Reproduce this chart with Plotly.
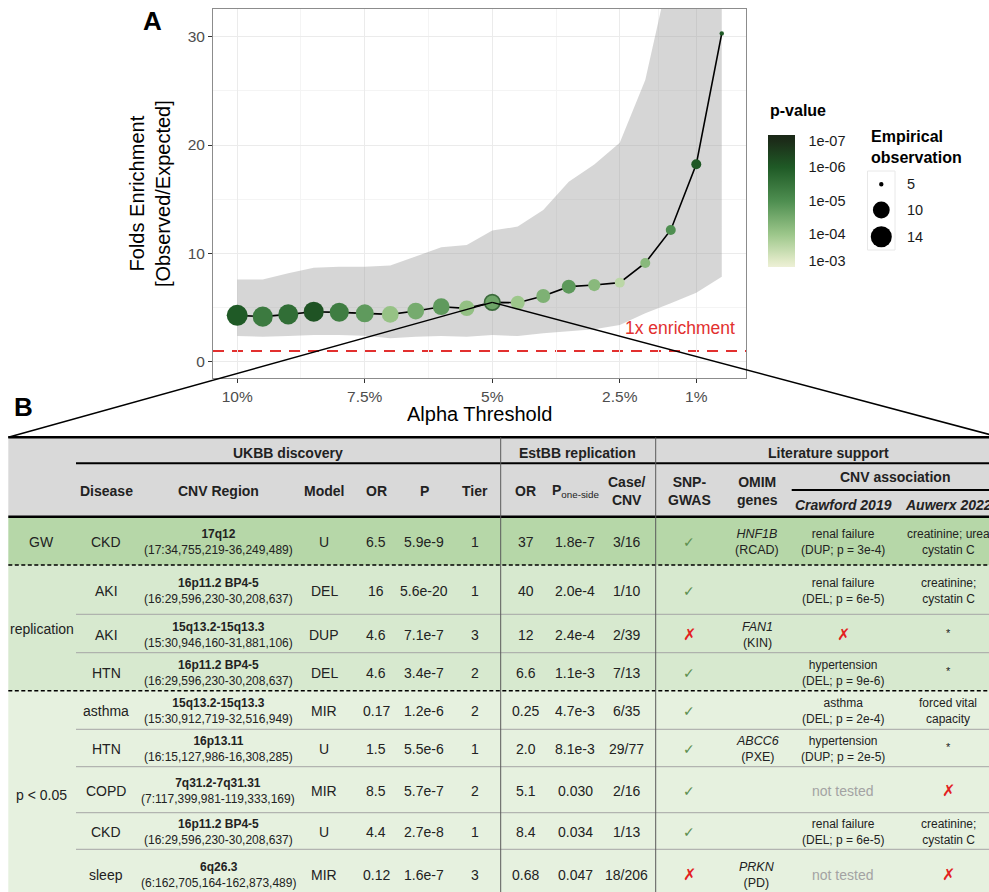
import numpy as np
import plotly.graph_objects as go

W, H = 989, 892
FONT = "Liberation Sans, Arial, Helvetica, sans-serif"
SYM = "DejaVu Sans, sans-serif"

# ---------------- Panel A data ----------------
alpha_pct = [10, 9.5, 9, 8.5, 8, 7.5, 7, 6.5, 6, 5.5, 5, 4.5, 4, 3.5, 3, 2.5, 2, 1.5, 1, 0.5]
fold_enrichment = [4.28, 4.16, 4.37, 4.62, 4.56, 4.47, 4.37, 4.68, 5.08, 4.93,
                   5.48, 5.45, 6.07, 6.93, 7.08, 7.30, 9.12, 12.16, 18.22, 30.3]
ribbon_lower = [2.37, 2.31, 2.37, 2.46, 2.46, 2.40, 2.16, 2.31, 2.37, 2.31,
                2.47, 2.37, 2.62, 2.83, 2.99, 3.39, 4.47, 5.39, 6.37, 7.85]
ribbon_upper = [7.60, 7.60, 8.16, 8.68, 8.77, 8.77, 8.87, 9.70, 10.56, 10.77,
                12.1, 12.47, 14.0, 16.6, 18.2, 20.2, 26.0, 36.5, 50.0, 70.0]
empirical_obs = [14, 13, 13, 13, 12, 11, 10, 10, 10, 9, 9, 8, 8, 8, 7, 6, 6, 6, 6, 5]
p_values = [1.0e-6, 4.0e-6, 2.4e-6, 7.0e-7, 4.6e-6, 1.6e-5, 8.0e-5, 3.2e-5, 1.6e-5, 7.4e-5,
            2.5e-5, 1.0e-4, 4.0e-5, 1.5e-5, 5.6e-5, 2.8e-4, 5.6e-5, 1.0e-5, 9.0e-7, 1.0e-6]
x_tick_vals = [10, 7.5, 5, 2.5, 1]
x_tick_text = ["10%", "7.5%", "5%", "2.5%", "1%"]
y_tick_vals = [0, 10, 20, 30]
pval_tick_text = ["1e-03", "1e-04", "1e-05", "1e-06", "1e-07"]
pval_tick_nlp = [3, 4, 5, 6, 7]
size_legend_vals = [5, 10, 14]
highlight_alpha = 5
enrichment_ref = 1

# ---------------- Panel B data ----------------
row_group = ["GW", "replication", "replication", "replication",
             "p < 0.05", "p < 0.05", "p < 0.05", "p < 0.05", "p < 0.05"]
disease = ["CKD", "AKI", "AKI", "HTN", "asthma", "HTN", "COPD", "CKD", "sleep"]
cnv_band = ["17q12", "16p11.2 BP4-5", "15q13.2-15q13.3", "16p11.2 BP4-5", "15q13.2-15q13.3",
            "16p13.11", "7q31.2-7q31.31", "16p11.2 BP4-5", "6q26.3"]
cnv_coords = ["(17:34,755,219-36,249,489)", "(16:29,596,230-30,208,637)", "(15:30,946,160-31,881,106)",
              "(16:29,596,230-30,208,637)", "(15:30,912,719-32,516,949)", "(16:15,127,986-16,308,285)",
              "(7:117,399,981-119,333,169)", "(16:29,596,230-30,208,637)", "(6:162,705,164-162,873,489)"]
model = ["U", "DEL", "DUP", "DEL", "MIR", "U", "MIR", "U", "MIR"]
ukbb_or = ["6.5", "16", "4.6", "4.6", "0.17", "1.5", "8.5", "4.4", "0.12"]
ukbb_p = ["5.9e-9", "5.6e-20", "7.1e-7", "3.4e-7", "1.2e-6", "5.5e-6", "5.7e-7", "2.7e-8", "1.6e-7"]
tier = ["1", "1", "3", "2", "2", "1", "2", "1", "3"]
estbb_or = ["37", "40", "12", "6.6", "0.25", "2.0", "5.1", "8.4", "0.68"]
estbb_p = ["1.8e-7", "2.0e-4", "2.4e-4", "1.1e-3", "4.7e-3", "8.1e-3", "0.030", "0.034", "0.047"]
case_cnv = ["3/16", "1/10", "2/39", "7/13", "6/35", "29/77", "2/16", "1/13", "18/206"]
snp_gwas = ["✓", "✓", "✗", "✓", "✓", "✓", "✓", "✓", "✗"]
omim_gene = ["HNF1B", "", "FAN1", "", "", "ABCC6", "", "", "PRKN"]
omim_disease = ["RCAD", "", "KIN", "", "", "PXE", "", "", "PD"]
crawford_2019 = ["renal failure<br>(DUP; p = 3e-4)", "renal failure<br>(DEL; p = 6e-5)", "✗",
                 "hypertension<br>(DEL; p = 9e-6)", "asthma<br>(DEL; p = 2e-4)",
                 "hypertension<br>(DUP; p = 2e-5)", "not tested",
                 "renal failure<br>(DEL; p = 6e-5)", "not tested"]
auwerx_2022 = ["creatinine; urea<br>cystatin C", "creatinine;<br>cystatin C", "*", "*",
               "forced vital<br>capacity", "*", "✗", "creatinine;<br>cystatin C", "✗"]

# ---------------- helpers ----------------
def px(x):
    return x / W


def py(y):
    return 1 - y / H


PLOT_L, PLOT_R, PLOT_T, PLOT_B = 213, 746, 9, 378
X_RANGE = [10.475, 0.025]
Y_RANGE = [-1.5, 32.55]

# colour scale (position along colour bar in px from bottom)
CBAR_X0, CBAR_W = 768.3, 27
CBAR_LEN, CBAR_BOTTOM = 132.4, 266.7
CBAR_POS = [6.0, 32.4, 65.7, 100.0, 126.0]
nlp = -np.log10(np.array(p_values))
cval = np.interp(nlp, pval_tick_nlp, CBAR_POS)
colorscale = [[0.0, "#edf0d6"], [0.045, "#e1eac8"], [0.245, "#9dc78b"], [0.496, "#4f8f51"],
              [0.755, "#1f5a26"], [0.952, "#1c2d19"], [1.0, "#1a2817"]]

n_min, n_max = min(empirical_obs), max(empirical_obs)


def dot_px(n):
    s = 1 + 5 * np.sqrt((n - n_min) / (n_max - n_min))
    return 1.167 * (2.845 * s + 0.945)


sizes = [dot_px(n) for n in empirical_obs]
line_w = [1.6 if a == highlight_alpha else 0 for a in alpha_pct]

fig = go.Figure()
fig.add_trace(go.Scatter(x=alpha_pct, y=ribbon_lower, mode="lines", line=dict(width=0),
                         hoverinfo="skip", showlegend=False))
fig.add_trace(go.Scatter(x=alpha_pct, y=ribbon_upper, mode="lines", line=dict(width=0),
                         fill="tonexty", fillcolor="rgba(153,153,153,0.4)",
                         hoverinfo="skip", showlegend=False))
fig.add_trace(go.Scatter(x=alpha_pct, y=fold_enrichment, mode="lines",
                         line=dict(color="black", width=1.6), showlegend=False))
fig.add_trace(go.Scatter(
    x=alpha_pct, y=fold_enrichment, mode="markers", showlegend=False,
    marker=dict(size=sizes, color=cval, colorscale=colorscale, cmin=0, cmax=CBAR_LEN,
                opacity=1, line=dict(width=line_w, color="#3c6a3c"),
                colorbar=dict(x=px(CBAR_X0), xanchor="left", xpad=0,
                              y=py(CBAR_BOTTOM - CBAR_LEN / 2), yanchor="middle",
                              ypad=0, len=CBAR_LEN, lenmode="pixels", thickness=CBAR_W,
                              thicknessmode="pixels", outlinewidth=0,
                              tickvals=CBAR_POS, ticktext=pval_tick_text,
                              ticks="outside", ticklen=11, tickcolor="rgba(0,0,0,0)",
                              tickfont=dict(size=14.5, color="#1a1a1a", family=FONT)))))

axis_common = dict(showline=True, linecolor="#8c8c8c", linewidth=1, mirror=True,
                   ticks="outside", ticklen=4, tickcolor="#333333", zeroline=False,
                   showgrid=True, gridcolor="#ebebeb", gridwidth=1,
                   tickfont=dict(size=15.5, color="#4d4d4d", family=FONT))

fig.update_layout(
    width=W, height=H, margin=dict(l=0, r=0, t=0, b=0),
    paper_bgcolor="white", plot_bgcolor="white", showlegend=False,
    font=dict(family=FONT),
    xaxis=dict(domain=[px(PLOT_L), px(PLOT_R)], range=X_RANGE, tickvals=x_tick_vals,
               ticktext=x_tick_text,
               minor=dict(tickvals=[8.75, 6.25, 3.75, 1.75], showgrid=True,
                          gridcolor="#f4f4f4", gridwidth=0.7, ticks=""),
               **axis_common),
    yaxis=dict(domain=[py(PLOT_B), py(PLOT_T)], range=Y_RANGE, tickvals=y_tick_vals,
               minor=dict(tickvals=[5, 15, 25], showgrid=True,
                          gridcolor="#f4f4f4", gridwidth=0.7, ticks=""),
               **axis_common),
)

shapes = []
annos = []


def txt(s, x, y, size=14, color="#222222", family=FONT, xanchor="center", yref="paper",
        angle=0, align="center"):
    annos.append(dict(text=s, x=px(x), y=(py(y) if yref == "paper" else y), xref="paper", yref=yref,
                      showarrow=False, xanchor=xanchor, yanchor="middle", textangle=angle,
                      align=align, font=dict(size=size, color=color, family=family)))


def hline(x0, x1, y, color="black", width=1, dash="solid", layer="above"):
    shapes.append(dict(type="line", xref="paper", yref="paper", x0=px(x0), x1=px(x1),
                       y0=py(y), y1=py(y), line=dict(color=color, width=width, dash=dash),
                       layer=layer))


def vline(x, y0, y1, color="black", width=1):
    shapes.append(dict(type="line", xref="paper", yref="paper", x0=px(x), x1=px(x),
                       y0=py(y0), y1=py(y1), line=dict(color=color, width=width)))


def rect(x0, x1, y0, y1, fill, line=None):
    shapes.append(dict(type="rect", xref="paper", yref="paper", x0=px(x0), x1=px(x1),
                       y0=py(y1), y1=py(y0), fillcolor=fill,
                       line=dict(width=0 if line is None else 1, color=line or fill),
                       layer="below"))


# red reference line
shapes.append(dict(type="line", xref="x domain", yref="y", x0=0, x1=1, y0=enrichment_ref,
                   y1=enrichment_ref, line=dict(color="#e2302f", width=2, dash="11px,8px"),
                   layer="below"))
txt("1x enrichment", 737, 3.1, size=17.5, color="#e2302f", xanchor="right", yref="y")

# panel A texts
txt("<b>A</b>", 152, 21, size=26, color="black")
txt("<b>B</b>", 23, 407, size=26, color="black")
txt("Folds Enrichment<br>[Observed/Expected]", 150.5, 193.5, size=20, color="black", angle=-90)
txt("Alpha Threshold", 479.5, 414, size=20, color="black")
txt("<b>p-value</b>", 768, 110, size=16, color="black", xanchor="left")
txt("<b>Empirical<br>observation</b>", 869, 146.5, size=16, color="black", xanchor="left",
    align="left")

# white tick marks on the colour bar edges (ggplot style)
for pos in CBAR_POS:
    yy = CBAR_BOTTOM - pos
    for xa, xb in ((CBAR_X0, CBAR_X0 + 5), (CBAR_X0 + CBAR_W - 5, CBAR_X0 + CBAR_W)):
        shapes.append(dict(type="line", xref="paper", yref="paper", x0=px(xa), x1=px(xb),
                           y0=py(yy), y1=py(yy), line=dict(color="white", width=1),
                           layer="above"))

# size legend
rect(867.5, 895, 171, 250, "white", line="#e8e8e8")
legend_y = [184.3, 210.0, 236.7]
for v, ly in zip(size_legend_vals, legend_y):
    d = dot_px(v)
    shapes.append(dict(type="circle", xref="paper", yref="paper",
                       x0=px(881.3 - d / 2), x1=px(881.3 + d / 2),
                       y0=py(ly + d / 2), y1=py(ly - d / 2),
                       fillcolor="black", line=dict(width=0)))
    txt(str(v), 905, ly, size=14.5, color="#1a1a1a", xanchor="left")

# ---------------- Panel B: table ----------------
TBL_L, TBL_R = 8.3, 1000
Y_TOP, Y_GRP, Y_HEAD = 437.3, 463.3, 516.7
row_bounds = [516.7, 565.0, 614.3, 652.7, 690.7, 729.3, 766.7, 812.7, 849.3, 898.0]
row_center = [(row_bounds[i] + row_bounds[i + 1]) / 2 + 1 for i in range(len(disease))]
COL = dict(group=41.5, disease=106, cnv=218, model=324, or1=376, p1=424, tier=475,
           or2=525.7, p2=575, case=626.7, snp=689.3, omim=757.3, craw=843.3, auw=948.3)
DIV1, DIV2 = 500.7, 655.7
group_fill = {"GW": "#b6d7a8", "replication": "#d7e9cf", "p < 0.05": "#e6f1df"}

# backgrounds
rect(TBL_L, TBL_R, Y_TOP, Y_HEAD, "#d9d9d9")
groups = []
for i, g in enumerate(row_group):
    if not groups or groups[-1][0] != g:
        groups.append([g, i, i])
    else:
        groups[-1][2] = i
for g, i0, i1 in groups:
    rect(TBL_L, TBL_R, row_bounds[i0], row_bounds[i1 + 1], group_fill[g])
    txt(g, COL["group"], (row_bounds[i0] + row_bounds[i1 + 1]) / 2 + 1, size=14)

# lines
for i in range(1, len(disease)):
    yb = row_bounds[i]
    if row_group[i] != row_group[i - 1]:
        hline(TBL_L, TBL_R, yb, color="black", width=1.5, dash="4px,2.5px")
    else:
        hline(76, TBL_R, yb, color="#a6a6a6", width=1)
hline(TBL_L, TBL_R, Y_TOP, width=2.5)
hline(76, TBL_R, Y_GRP, width=2)
hline(791.7, TBL_R, 490, width=2)
hline(TBL_L, TBL_R, Y_HEAD, width=2.5)
vline(DIV1, Y_TOP, 898, color="#5a5a5a", width=1)
vline(DIV2, Y_TOP, 898, color="#5a5a5a", width=1)

# headers
txt("<b>UKBB discovery</b>", 288, 453.3)
txt("<b>EstBB replication</b>", 577, 453.3)
txt("<b>Literature support</b>", 828.3, 453.3)
for key, lab in [("disease", "Disease"), ("cnv", "CNV Region"), ("model", "Model"),
                 ("or1", "OR"), ("p1", "P"), ("tier", "Tier"), ("or2", "OR")]:
    txt(f"<b>{lab}</b>", COL[key], 491)
txt("<b>P</b><sub>one-side</sub>", COL["p2"], 491)
txt("<b>Case/<br>CNV</b>", COL["case"], 491)
txt("<b>SNP-<br>GWAS</b>", COL["snp"], 491)
txt("<b>OMIM<br>genes</b>", COL["omim"], 491)
txt("<b>CNV association</b>", 895, 477.5)
txt("<b><i>Crawford 2019</i></b>", COL["craw"], 505)
txt("<b><i>Auwerx 2022</i></b>", COL["auw"], 505)


def lit_cell(s, x, y):
    if s == "✗":
        txt(s, x, y, size=16, color="#e3221f", family=SYM)
    elif s == "not tested":
        txt(s, x, y, size=14, color="#a3a3a3")
    elif s == "*":
        txt(s, x, y - 2, size=11, color="#222222")
    else:
        txt(s, x, y, size=12)


for i in range(len(disease)):
    y = row_center[i]
    txt(disease[i], COL["disease"], y)
    txt(f"<b>{cnv_band[i]}</b><br>{cnv_coords[i]}", COL["cnv"], y, size=12)
    txt(model[i], COL["model"], y)
    txt(ukbb_or[i], COL["or1"], y)
    txt(ukbb_p[i], COL["p1"], y)
    txt(tier[i], COL["tier"], y)
    txt(estbb_or[i], COL["or2"], y)
    txt(estbb_p[i], COL["p2"], y)
    txt(case_cnv[i], COL["case"], y)
    if snp_gwas[i] == "✓":
        txt("✓", COL["snp"], y, size=14, color="#5d8f4e", family=SYM)
    else:
        txt("✗", COL["snp"], y, size=16, color="#e3221f", family=SYM)
    if omim_gene[i]:
        txt(f"<i>{omim_gene[i]}</i><br>({omim_disease[i]})", COL["omim"], y, size=12.5)
    lit_cell(crawford_2019[i], COL["craw"], y)
    lit_cell(auwerx_2022[i], COL["auw"], y)

# connecting lines from the highlighted point to the table corners
ih = alpha_pct.index(highlight_alpha)
fx = (alpha_pct[ih] - X_RANGE[0]) / (X_RANGE[1] - X_RANGE[0])
fy = (fold_enrichment[ih] - Y_RANGE[0]) / (Y_RANGE[1] - Y_RANGE[0])
hx = px(PLOT_L) + fx * (px(PLOT_R) - px(PLOT_L))
hy = py(PLOT_B) + fy * (py(PLOT_T) - py(PLOT_B))
for cx in (TBL_L, TBL_R):
    shapes.append(dict(type="line", xref="paper", yref="paper", x0=hx, y0=hy,
                       x1=px(cx), y1=py(Y_TOP), line=dict(color="black", width=1.5),
                       layer="above"))

fig.update_layout(shapes=shapes, annotations=annos)
fig.write_html("out.html", config={"displayModeBar": False},
               post_script="document.body.style.margin='0';document.body.style.overflow='hidden';")
